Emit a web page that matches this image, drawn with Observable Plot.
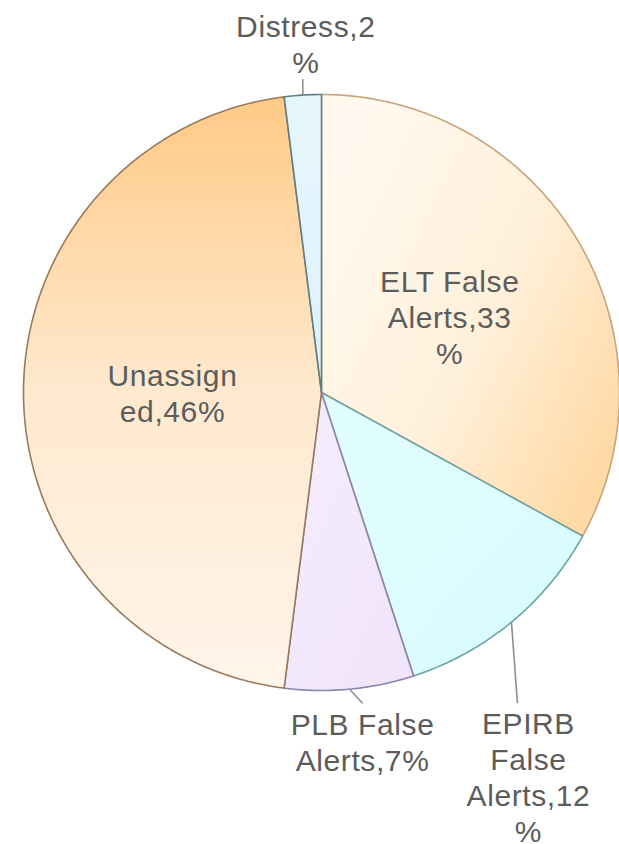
<!DOCTYPE html>
<html>
<head>
<meta charset="utf-8">
<script src="https://cdn.jsdelivr.net/npm/d3@7"></script>
<script src="https://cdn.jsdelivr.net/npm/@observablehq/plot@0.6"></script>
<style>
  html, body { margin: 0; padding: 0; background: #fff; }
  #chart svg text { letter-spacing: 0.6px; }
</style>
</head>
<body>
<div id="chart"></div>
<script>
// ---- data ----
const categories = ["ELT False Alerts", "EPIRB False Alerts", "PLB False Alerts", "Unassigned", "Distress"];
const values = [33, 12, 7, 46, 2];
const labelTexts = ["ELT False\nAlerts,33\n%", "EPIRB\nFalse\nAlerts,12\n%", "PLB False\nAlerts,7%", "Unassign\ned,46%", "Distress,2\n%"];

// ---- style ----
const gradStops = [
  [["#fff9ef", 0], ["#fff0da", 0.55], ["#ffdaa6", 1]],
  [["#e2feff", 0], ["#d8fbff", 1]],
  [["#f5edfd", 0], ["#f0e3fa", 1]],
  [["#fff5ea", 0], ["#ffe9cf", 0.5], ["#ffca86", 1]],
  [["#e6f6fd", 0], ["#def2fb", 1]]
];
const gradVec = [
  [0.1, 0.1, 1, 0.75],
  [0, 0, 1, 1],
  [0, 0, 1, 1],
  [0.5, 1, 0.5, 0],
  [0, 0, 0, 1]
];
const strokes = ["#c9a47a", "#6fa2a6", "#8c84ab", "#9a7a5c", "#5f7d84"];
// label layout: inside labels at radius, outside labels via leader offsets (px)
const labelLayout = [
  {mode: "inside", r: 0.5},
  {mode: "below", ox: 6, oy: 81, tdx: 11, tdy: 5},
  {mode: "below", ox: 13, oy: 14, tdx: 0, tdy: 6},
  {mode: "inside", r: 0.5},
  {mode: "above", ox: 0, oy: -16, tdx: 3, tdy: -6}
];

const R = 298; // pixel radius
const arcs = d3.pie().sort(null).value(d => d)(values);

// slice outlines
const slices = arcs.map((a, i) => {
  const n = Math.max(8, Math.ceil((a.endAngle - a.startAngle) * 180 / Math.PI * 2));
  const pts = [{x: 0, y: 0}];
  for (let k = 0; k <= n; ++k) {
    const t = a.startAngle + (a.endAngle - a.startAngle) * k / n;
    pts.push({x: Math.sin(t), y: Math.cos(t)});
  }
  pts.push({x: 0, y: 0});
  return pts;
});

const mid = arcs.map(a => (a.startAngle + a.endAngle) / 2);
const inside = [], below = [], above = [], leaders = [];
arcs.forEach((a, i) => {
  const L = labelLayout[i];
  const m = mid[i];
  if (L.mode === "inside") {
    inside.push({x: L.r * Math.sin(m), y: L.r * Math.cos(m), text: labelTexts[i]});
  } else {
    const x1 = Math.sin(m), y1 = Math.cos(m);
    const x2 = x1 + L.ox / R, y2 = y1 - L.oy / R;
    leaders.push({x1, y1, x2, y2});
    const t = {x: x2 + L.tdx / R, y: y2 - L.tdy / R, text: labelTexts[i]};
    (L.mode === "below" ? below : above).push(t);
  }
});

const textOpts = {
  x: "x", y: "y", text: "text",
  fontSize: 30, fontFamily: "Liberation Sans, Arial, sans-serif",
  fill: "#5c5c5c", lineHeight: 1.2, textAnchor: "middle"
};

const plot = Plot.plot({
  width: 619,
  height: 844,
  marginLeft: 23, marginRight: 0, marginTop: 94, marginBottom: 154,
  x: {domain: [-1, 1], axis: null},
  y: {domain: [-1, 1], axis: null},
  marks: [
    ...slices.map((pts, i) => Plot.line(pts, {
      x: "x", y: "y", curve: "linear",
      fill: `url(#grad${i})`, stroke: strokes[i], strokeWidth: 1.6, strokeLinejoin: "round"
    })),
    Plot.link(leaders, {x1: "x1", y1: "y1", x2: "x2", y2: "y2", stroke: "#8e8e8e", strokeWidth: 1.6}),
    Plot.text(inside, {...textOpts, lineAnchor: "middle"}),
    Plot.text(below, {...textOpts, lineAnchor: "top"}),
    Plot.text(above, {...textOpts, lineAnchor: "bottom"})
  ]
});

// gradient definitions
const NS = "http://www.w3.org/2000/svg";
const defs = document.createElementNS(NS, "defs");
gradStops.forEach((stops, i) => {
  const g = document.createElementNS(NS, "linearGradient");
  g.setAttribute("id", `grad${i}`);
  const [x1, y1, x2, y2] = gradVec[i];
  g.setAttribute("x1", x1); g.setAttribute("y1", y1);
  g.setAttribute("x2", x2); g.setAttribute("y2", y2);
  stops.forEach(([c, o]) => {
    const s = document.createElementNS(NS, "stop");
    s.setAttribute("offset", o);
    s.setAttribute("stop-color", c);
    g.appendChild(s);
  });
  defs.appendChild(g);
});
plot.insertBefore(defs, plot.firstChild);

document.getElementById("chart").appendChild(plot);
</script>
</body>
</html>
